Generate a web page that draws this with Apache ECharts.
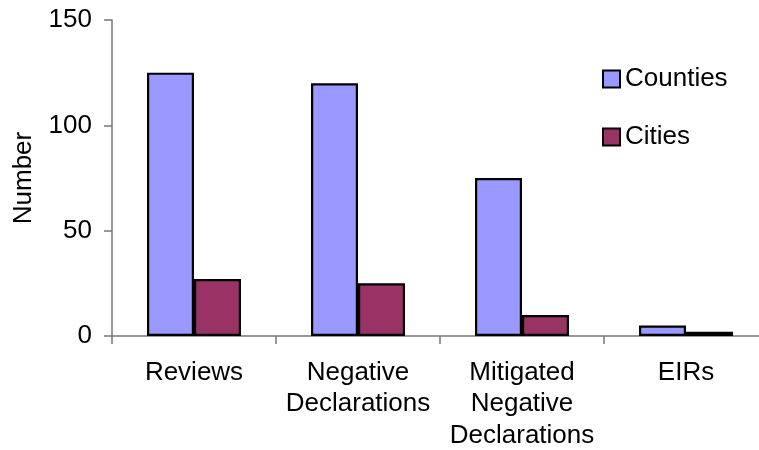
<!DOCTYPE html>
<html>
<head>
<meta charset="utf-8">
<script src="https://cdn.jsdelivr.net/npm/echarts@6/dist/echarts.min.js"></script>
<style>
  html, body { margin: 0; padding: 0; background: #fff; }
  #chart { width: 759px; height: 450px; }
</style>
</head>
<body>
<div id="chart"></div>
<script>
// Environmental review counts by document type
const categories = ['Reviews', 'Negative\nDeclarations', 'Mitigated\nNegative\nDeclarations', 'EIRs'];
const counties = [125, 120, 75, 5];
const cities = [27, 25, 10, 2];
const yTicks = { min: 0, max: 150, interval: 50 };

const FONT = '"Liberation Sans", Arial, sans-serif';
const AXIS_COLOR = '#777777';

const chart = echarts.init(document.getElementById('chart'), null, { renderer: 'canvas' });

chart.setOption({
  backgroundColor: '#ffffff',
  animation: false,
  textStyle: { fontFamily: FONT },
  grid: {
    left: 112, top: 20, width: 656, height: 316,
    outerBoundsMode: 'none'
  },
  legend: {
    orient: 'vertical',
    left: 602, top: 66,
    padding: 0,
    itemWidth: 17, itemHeight: 17,
    itemGap: 32,
    icon: 'rect',
    textStyle: { fontSize: 26, color: '#000', fontFamily: FONT },
    data: ['Counties', 'Cities']
  },
  xAxis: {
    type: 'category',
    data: categories,
    axisLine: { show: true, lineStyle: { color: AXIS_COLOR, width: 1.5 } },
    axisTick: { show: true, alignWithLabel: false, length: 8, lineStyle: { color: AXIS_COLOR, width: 1.5 } },
    axisLabel: {
      interval: 0, margin: 21, fontSize: 26, lineHeight: 31.5,
      color: '#000', fontFamily: FONT, align: 'center'
    },
    splitLine: { show: false }
  },
  yAxis: {
    type: 'value',
    min: yTicks.min, max: yTicks.max, interval: yTicks.interval,
    name: 'Number',
    nameLocation: 'middle',
    nameGap: 75,
    nameRotate: 90,
    nameTextStyle: { fontSize: 26, color: '#000', fontFamily: FONT },
    axisLine: { show: true, lineStyle: { color: AXIS_COLOR, width: 1.5 } },
    axisTick: { show: true, length: 8, lineStyle: { color: AXIS_COLOR, width: 1.5 } },
    axisLabel: { margin: 20, fontSize: 26, color: '#000', fontFamily: FONT },
    splitLine: { show: false }
  },
  series: [
    {
      name: 'Counties',
      type: 'bar',
      data: counties,
      barWidth: 47,
      barGap: '0%',
      itemStyle: { color: '#9999FF', borderColor: '#000', borderWidth: 2.2 }
    },
    {
      name: 'Cities',
      type: 'bar',
      data: cities,
      barWidth: 47,
      barGap: '0%',
      itemStyle: { color: '#993366', borderColor: '#000', borderWidth: 2.2 }
    }
  ]
});
</script>
</body>
</html>
